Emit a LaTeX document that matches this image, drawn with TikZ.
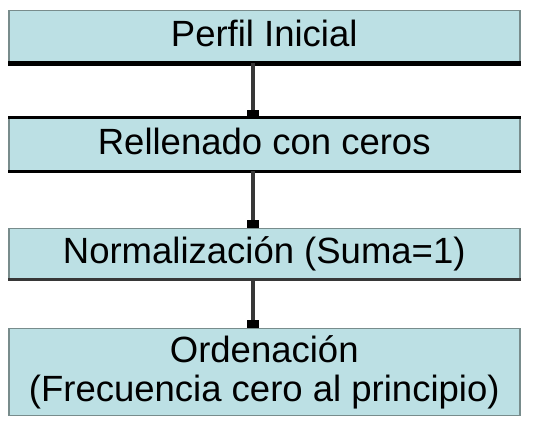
\documentclass[tikz,border=0pt]{standalone}
\usepackage{fontspec}
\setmainfont{Liberation Sans}
\usetikzlibrary{arrows.meta}
\definecolor{boxfill}{RGB}{188,224,228}
\definecolor{boxedge}{RGB}{120,140,140}
\definecolor{arrowcol}{RGB}{55,55,55}
\begin{document}
\begin{tikzpicture}[x=1pt,y=-1pt,
  stepbox/.style={draw=boxedge,line width=1.5pt,fill=boxfill,minimum width=511pt,
    inner sep=0pt,font=\fontsize{36.5}{39}\selectfont,align=center,anchor=north west},
  oneline/.style={text height=26pt,text depth=7pt},
  conn/.style={draw=arrowcol,line width=4pt,-{Square[length=8pt,width=12pt,color=black]},shorten >=0pt}]
\useasboundingbox (0,0) rectangle (558,425);
\node[stepbox,oneline,minimum height=52pt] (a) at (8,10) {Perfil Inicial};
\node[stepbox,oneline,minimum height=52pt] (b) at (8,118) {Rellenado con ceros};
\node[stepbox,oneline,minimum height=50pt] (c) at (8,228) {Normalizaci\'on (Suma=1)};
\node[stepbox,minimum height=87pt] (d) at (8,328) {Ordenaci\'on\\(Frecuencia cero al principio)};
\draw[line width=5pt,black] (a.south west) -- (a.south east);
\draw[line width=3pt,black] (b.north west) -- (b.north east);
\draw[line width=3.5pt,black] (b.south west) -- (b.south east);
\draw[line width=3pt,arrowcol] (c.south west) -- (c.south east);
\draw[conn] ([xshift=-11pt]a.south) -- ([xshift=-11pt]b.north);
\draw[conn] ([xshift=-11pt]b.south) -- ([xshift=-11pt]c.north);
\draw[conn] ([xshift=-11pt]c.south) -- ([xshift=-11pt]d.north);
\end{tikzpicture}
\end{document}
